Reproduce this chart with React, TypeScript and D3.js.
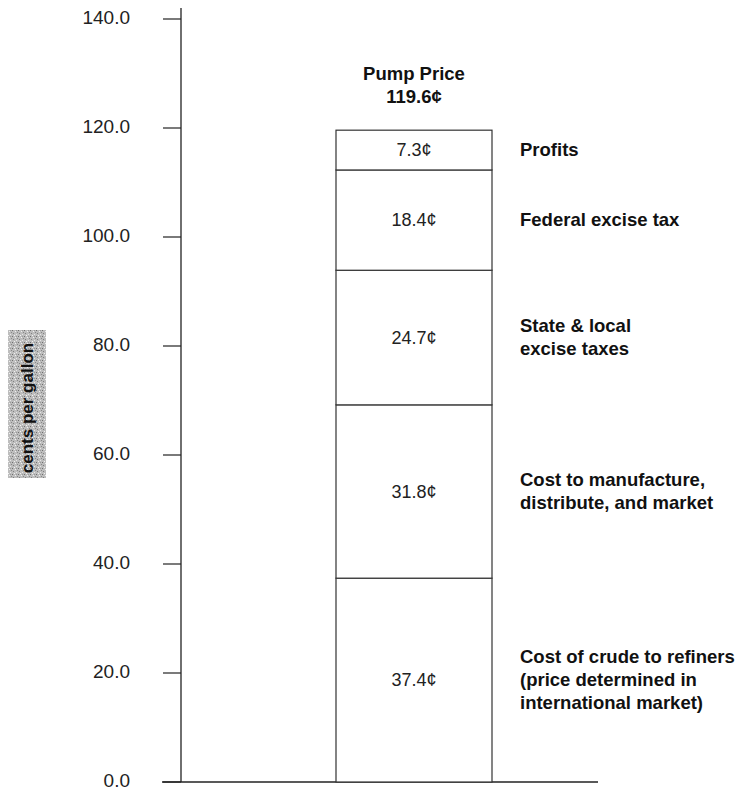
import React from "react";
import * as d3 from "d3";

// Components of the retail gasoline price, bottom to top (cents per gallon)
const componentValues = [37.4, 31.8, 24.7, 18.4, 7.3];
const componentValueLabels = ["37.4¢", "31.8¢", "24.7¢", "18.4¢", "7.3¢"];
const componentNames = [
  ["Cost of crude to refiners", "(price determined in", "international market)"],
  ["Cost to manufacture,", "distribute, and market"],
  ["State & local", "excise taxes"],
  ["Federal excise tax"],
  ["Profits"],
];
const yTickValues = [0, 20, 40, 60, 80, 100, 120, 140];
const titleLines = ["Pump Price", "119.6¢"];
const axisTitle = "cents per gallon";

const W = 746;
const H = 792;
const FONT = "'Liberation Sans', Arial, Helvetica, sans-serif";

export default function App() {
  const y = d3.scaleLinear().domain([0, 140]).range([782, 19]);
  const x = d3.scaleBand().domain(["pump"]).range([162, 598]).paddingInner(0).paddingOuter(0);
  const axisX = 181;
  const barLeft = 336;
  const barRight = 492;
  const barCx = (barLeft + barRight) / 2;

  const tops = d3.cumsum(componentValues);
  const segments = componentValues.map((v, i) => ({
    y0: tops[i] - v,
    y1: tops[i],
    label: componentValueLabels[i],
    name: componentNames[i],
  }));

  const lineH = 23;

  return (
    <svg
      width={W}
      height={H}
      style={{ position: "absolute", left: 0, top: 0, background: "#fff" }}
      fontFamily={FONT}
    >
      <defs>
        <pattern id="stipple" width="6" height="6" patternUnits="userSpaceOnUse">
          <rect width="6" height="6" fill="#bdbdbd" />
          <rect x="0" y="0" width="1" height="1" fill="#6f6f6f" />
          <rect x="3" y="1" width="1" height="1" fill="#efefef" />
          <rect x="1" y="3" width="1" height="1" fill="#808080" />
          <rect x="4" y="4" width="1" height="1" fill="#e6e6e6" />
          <rect x="5" y="2" width="1" height="1" fill="#888" />
          <rect x="2" y="5" width="1" height="1" fill="#f2f2f2" />
          <rect x="4" y="0" width="1" height="1" fill="#999" />
        </pattern>
      </defs>

      {/* value axis */}
      <line x1={axisX} x2={axisX} y1={8} y2={y(0)} stroke="#222" strokeWidth={1.3} />
      {yTickValues.map((t) => (
        <g key={t}>
          <line x1={163} x2={axisX} y1={y(t)} y2={y(t)} stroke="#222" strokeWidth={1.2} />
          <text x={130} y={y(t) + 5} textAnchor="end" fontSize={19} fill="#222">
            {t.toFixed(1)}
          </text>
        </g>
      ))}

      {/* baseline */}
      <line x1={x.range()[0]} x2={x.range()[1]} y1={y(0)} y2={y(0)} stroke="#222" strokeWidth={1.4} />

      {/* axis title on a stippled panel */}
      <rect x={8} y={330} width={38} height={148} fill="url(#stipple)" />
      <text
        transform={`translate(33, 408) rotate(-90)`}
        textAnchor="middle"
        fontSize={17}
        fontWeight="bold"
        fill="#111"
      >
        {axisTitle}
      </text>

      {/* stacked bar */}
      {segments.map((s, i) => (
        <g key={i}>
          <rect
            x={barLeft}
            y={y(s.y1)}
            width={barRight - barLeft}
            height={y(s.y0) - y(s.y1)}
            fill="#fff"
            stroke="#333"
            strokeWidth={1.2}
          />
          <text
            x={barCx}
            y={y((s.y0 + s.y1) / 2) + 6}
            textAnchor="middle"
            fontSize={18}
            fill="#222"
          >
            {s.label}
          </text>
          {s.name.map((line, j) => (
            <text
              key={j}
              x={520}
              y={y((s.y0 + s.y1) / 2) + 6 + (j - (s.name.length - 1) / 2) * lineH}
              fontSize={18.5}
              fontWeight="bold"
              fill="#111"
            >
              {line}
            </text>
          ))}
        </g>
      ))}

      {/* total label above the bar */}
      {titleLines.map((t, i) => (
        <text
          key={i}
          x={barCx}
          y={80 + i * 23}
          textAnchor="middle"
          fontSize={18.5}
          fontWeight="bold"
          fill="#111"
        >
          {t}
        </text>
      ))}
    </svg>
  );
}
